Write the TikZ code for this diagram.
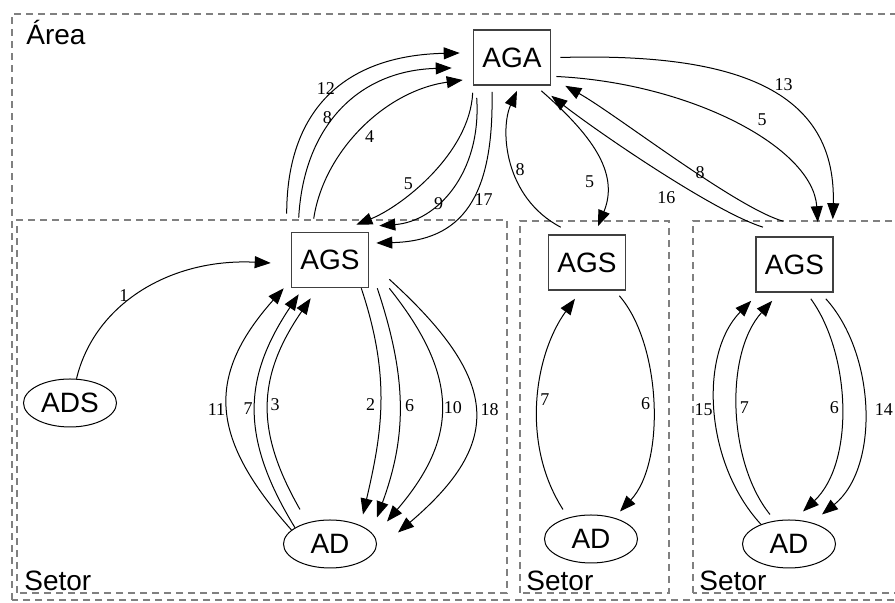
\documentclass[tikz,border=0pt]{standalone}
\usepackage{fontspec}
\setmainfont{Liberation Serif}
\setsansfont{Liberation Sans}
\usetikzlibrary{shapes.geometric,arrows.meta}
\tikzset{
    box/.style={rectangle,draw=black!75,line width=0.8pt,inner sep=0pt,minimum width=38.5pt,minimum height=27.5pt,font=\sffamily\fontsize{14}{16}\selectfont},
    oval/.style={ellipse,draw,line width=0.5pt,inner sep=0pt,minimum width=46.5pt,minimum height=24pt,font=\sffamily\fontsize{14}{16}\selectfont},
    cluster/.style={draw=black!50,line width=0.6pt,dash pattern=on 3.5pt off 2.5pt},
    clabel/.style={inner sep=0pt,anchor=base west,font=\sffamily\fontsize{14}{16}\selectfont},
    arr/.style={line width=0.5pt,-{Triangle[length=8pt,width=6pt]}},
    lbl/.style={inner sep=1pt,font=\fontsize{9}{10}\selectfont}
}
\begin{document}
\begin{tikzpicture}[x=0.5pt,y=0.5pt]
    \clip(0,0) rectangle (895,603);
    \draw[cluster](12,3) rectangle (905,589);
    \draw[cluster](17,10) rectangle (507,383);
    \draw[cluster](520,10) rectangle (669,382);
    \draw[cluster](693,10) rectangle (905,382);
    \node[clabel](area) at (26,558){Área};
    \node[clabel](setor1) at (24,12){Setor};
    \node[clabel](setor2) at (526,12){Setor};
    \node[clabel](setor3) at (699,12){Setor};

    \node[box](AGA) at (512,545.5){AGA};
    \node[box](AGS1) at (330,343){AGS};
    \node[box](AGS2) at (587,340.5){AGS};
    \node[box](AGS3) at (794.5,338.5){AGS};
    \node[oval](ADS) at (70,200){ADS};
    \node[oval](AD1) at (330,59){AD};
    \node[oval](AD2) at (591,64){AD};
    \node[oval](AD3) at (789,59){AD};

    \draw[arr](ADS.75)..controls +(18,75) and +(-100,5)..([xshift=-10pt,yshift=-1.5pt]AGS1.west)node[lbl,pos=.4,above]{1};

    \draw[arr](AD1.160)..controls +(-80,90) and +(-80,-90)..([xshift=-3.5pt]AGS1.south west)node[lbl,pos=.5,left]{11};
    \draw[arr](AD1.155)..controls +(-55,90) and +(-56,-84)..([xshift=4pt,yshift=-3pt]AGS1.south west)node[lbl,pos=.5,left]{7};
    \draw[arr]([xshift=-15pt,yshift=5pt]AD1.north)..controls +(-44,77) and +(-55,-80)..([xshift=10pt,yshift=-5pt]AGS1.south west)node[lbl,pos=.5,right]{3};
    \draw[arr]([xshift=-4pt]AGS1.south east)..controls +(30,-90) and +(19,82)..([xshift=16.5pt,yshift=2.5pt]AD1.north)node[lbl,pos=.5,left=1.5pt]{2};
    \draw[arr]([xshift=4pt]AGS1.south east)..controls +(30,-90) and +(30,82)..([xshift=23.5pt,yshift=1pt]AD1.north)node[lbl,pos=.5,right=1.5pt]{6};
    \draw[arr]([xshift=10pt]AGS1.south east)..controls +(72,-90) and +(70,82)..([xshift=28.5pt,yshift=-1pt]AD1.north)node[lbl,pos=.5,right]{10};
    \draw[arr]([xshift=10pt,yshift=4.5pt]AGS1.south east)..controls +(110,-100) and +(107,91)..([xshift=34pt,yshift=-6.5pt]AD1.north)node[lbl,pos=.5,right=1.5pt]{18};

    \draw[arr]([xshift=-2pt,yshift=9pt]AGS1.north west)..controls +(0,102) and +(-117,-2.5)..([xshift=-6.5pt,yshift=2.25pt]AGA.west)node[lbl,pos=.48,above=1pt]{12};
    \draw[arr]([xshift=4pt,yshift=7pt]AGS1.north west)..controls +(5,91) and +(-94,-2.5)..([xshift=-10.5pt,yshift=-5.25pt]AGA.west)node[lbl,pos=.45,left]{8};
    \draw[arr]([xshift=11.5pt,yshift=6.5pt]AGS1.north west)..controls +(10,67) and +(-78,-11)..([xshift=-5pt,yshift=-11.25pt]AGA.west)node[lbl,pos=.5,below right]{4};
    \draw[arr]([yshift=-3.5pt]AGA.south west)..controls +(-3,-61) and +(45,18)..([xshift=-6.5pt,yshift=3.5pt]AGS1.north east)node[lbl,pos=.65,above=1pt]{5};
    \draw[arr]([xshift=2pt,yshift=-6pt]AGA.south west)..controls +(5,-76) and +(57,4)..([xshift=5pt,yshift=3pt]AGS1.north east)node[lbl,pos=.55,below left]{9};
    \draw[arr]([xshift=-10pt,yshift=-3pt]AGA.south)..controls +(2,-107) and +(85,2)..([xshift=3.5pt,yshift=8.5pt]AGS1.east)node[lbl,pos=.45,right]{17};

    \draw[arr]([xshift=6.5pt,yshift=3.5pt]AGS2.north west)..controls +(-57,30) and +(-17,-38)..([xshift=2.5pt,yshift=-2.5pt]AGA.south)node[lbl,pos=.45,right]{8};
    \draw[arr]([xshift=-5pt,yshift=-2.5pt]AGA.south east)..controls +(49,-43) and +(22,54)..([xshift=5.5pt,yshift=4pt]AGS2.north)node[lbl,pos=.7,left=4pt]{5};

    \draw[arr]([xshift=4.5pt]AGA.east)..controls +(160,4.5) and +(4,137)..([xshift=-0.5pt,yshift=8.5pt]AGS3.north east)node[lbl,pos=.55,above right]{13};
    \draw[arr]([xshift=2.5pt,yshift=-9.5pt]AGA.east)..controls +(134,-6.5) and +(-5,75)..([xshift=-8pt,yshift=7pt]AGS3.north east)node[lbl,pos=.6,above=6pt]{5};
    \draw[arr]([xshift=-5.75pt,yshift=7.5pt]AGS3.north)..controls +(-48,14) and +(50,-28)..([xshift=7pt]AGA.south east)node[lbl,pos=.42,right,inner sep=0pt]{8};
    \draw[arr]([xshift=-15.75pt,yshift=4.5pt]AGS3.north)..controls +(-48,15) and +(49,-38)..([yshift=-5pt]AGA.south east)node[lbl,pos=.4,below left=2pt]{16};

    \draw[arr]([xshift=-14pt,yshift=2.5pt]AD2.north)..controls +(-43,67) and +(-40,-55)..([xshift=-6pt,yshift=-4pt]AGS2.south)node[lbl,pos=.5,right]{7};
    \draw[arr]([xshift=-3.5pt,yshift=-2.5pt]AGS2.south east)..controls +(42,-48) and +(46,49)..([xshift=14.5pt,yshift=1.5pt]AD2.north)node[lbl,pos=.5,left]{6};

    \draw[arr](AD3.145)..controls +(-57,62) and +(-52,-53)..([xshift=-2pt,yshift=-4pt]AGS3.south west)node[lbl,pos=.5,left]{15};
    \draw[arr]([xshift=-9.5pt,yshift=2.5pt]AD3.north)..controls +(-42,52) and +(-48,-53)..([xshift=8.5pt,yshift=-4pt]AGS3.south west)node[lbl,pos=.5,right]{7};
    \draw[arr]([xshift=-11.5pt,yshift=-3pt]AGS3.south east)..controls +(40,-55) and +(52,49)..([xshift=7pt,yshift=4pt]AD3.north)node[lbl,pos=.5,left]{6};
    \draw[arr]([xshift=-4pt,yshift=-3pt]AGS3.south east)..controls +(50,-55) and +(58,47)..([xshift=16.5pt,yshift=2.5pt]AD3.north)node[lbl,pos=.5,right=4pt]{14};
\end{tikzpicture}
\end{document}
